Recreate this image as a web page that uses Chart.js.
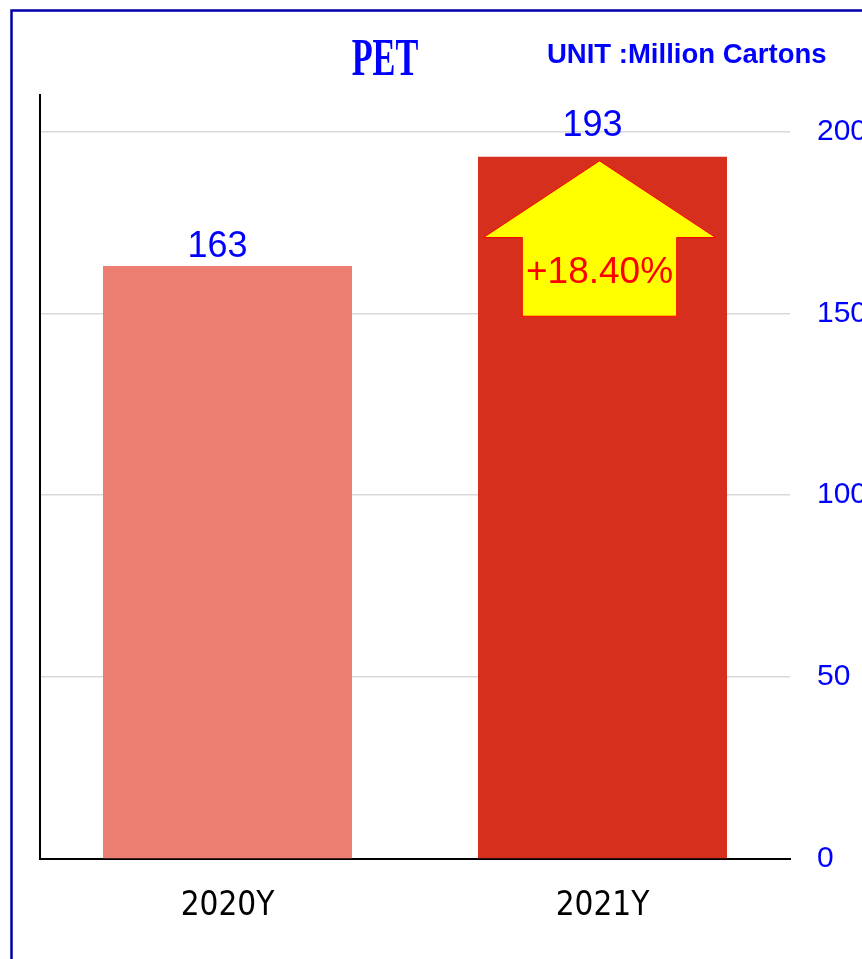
<!DOCTYPE html>
<html>
<head>
<meta charset="utf-8">
<script src="https://cdn.jsdelivr.net/npm/chart.js@4.4.1/dist/chart.umd.min.js"></script>
<style>
  html, body { margin: 0; padding: 0; background: #fff; overflow: hidden; }
  #wrap { width: 862px; height: 959px; position: relative; }
</style>
</head>
<body>
<div id="wrap"><canvas id="petChart"></canvas></div>
<script>
// datos
const categories = ["2020Y", "2021Y"];
const volumes = [163, 193];
const barColors = ["#ec7f72", "#d62f1e"];
const yTicks = [0, 50, 100, 150, 200];
const growthLabel = "+18.40%";
const chartTitle = "PET";
const unitLabel = "UNIT :Million Cartons";

const BLUE = "#0000ff";

// marco, titulos, etiquetas y flecha
const decoraciones = {
  id: "decoraciones",
  afterDatasetsDraw(chart, args, opts) {
    const ctx = chart.ctx;
    const bars = chart.getDatasetMeta(0).data;
    ctx.save();

    // flecha sobre la barra 2021
    const b = bars[1];
    const w = b.width;
    const cx = b.x - 3;
    const tipY = b.y + w * 0.016;
    const headY = b.y + w * 0.324;
    const bottomY = b.y + w * 0.64;
    ctx.beginPath();
    ctx.moveTo(cx, tipY);
    ctx.lineTo(cx + w * 0.466, headY);
    ctx.lineTo(cx + w * 0.31, headY);
    ctx.lineTo(cx + w * 0.31, bottomY);
    ctx.lineTo(cx - w * 0.31, bottomY);
    ctx.lineTo(cx - w * 0.31, headY);
    ctx.lineTo(cx - w * 0.466, headY);
    ctx.closePath();
    ctx.fillStyle = "#ffff00";
    ctx.fill();
    ctx.strokeStyle = "#ff0000";
    ctx.lineWidth = 1;
    ctx.stroke();

    ctx.fillStyle = "#ff0000";
    ctx.font = "37px 'Liberation Sans', Arial, sans-serif";
    ctx.textAlign = "center";
    ctx.textBaseline = "alphabetic";
    ctx.fillText(growthLabel, cx, b.y + w * 0.505);

    // valores encima de las barras
    ctx.fillStyle = BLUE;
    ctx.font = "36px 'Liberation Sans', Arial, sans-serif";
    bars.forEach((bar, i) => {
      ctx.fillText(String(volumes[i]), bar.x - 10, bar.y - opts.lift[i]);
    });

    // titulo PET
    ctx.save();
    ctx.translate(385, 75);
    ctx.scale(0.66, 1);
    ctx.font = "bold 52px 'Liberation Serif', 'Times New Roman', serif";
    ctx.fillText(chartTitle, 0, 0);
    ctx.restore();

    ctx.font = "bold 27.5px 'Liberation Sans', Arial, sans-serif";
    ctx.textAlign = "left";
    ctx.fillText(unitLabel, 547, 63);

    // marco azul
    ctx.strokeStyle = "#0000a8";
    ctx.lineWidth = 2.5;
    ctx.strokeRect(11.5, 10.5, 1000, 1100);
    ctx.restore();
  }
};

new Chart(document.getElementById("petChart"), {
  type: "bar",
  data: {
    labels: categories,
    datasets: [
      {
        data: volumes,
        backgroundColor: barColors,
        borderWidth: 0,
        barPercentage: 0.664,
        categoryPercentage: 1,
      },
    ],
  },
  options: {
    responsive: true,
    maintainAspectRatio: false,
    animation: false,
    layout: { padding: { top: 95, left: 0, right: 0, bottom: 0 } },
    plugins: {
      legend: { display: false },
      tooltip: { enabled: false },
      decoraciones: { lift: [9, 21] },
    },
    scales: {
      x: {
        grid: { display: false, drawTicks: false },
        border: { color: "#000", width: 2 },
        ticks: {
          color: "#000",
          padding: 28,
          font: { family: "'DejaVu Sans Condensed', 'DejaVu Sans', sans-serif", size: 33 },
        },
        afterFit(scale) { scale.height = 100; },
      },
      y: {
        position: "right",
        min: 0,
        max: 210,
        afterBuildTicks(scale) { scale.ticks = yTicks.map(v => ({ value: v })); },
        grid: { color: "#d9d9d9", lineWidth: 1.5, drawTicks: false },
        border: { display: false },
        ticks: {
          color: BLUE,
          padding: 27,
          font: { family: "'Liberation Sans', Arial, sans-serif", size: 30 },
        },
        afterFit(scale) { scale.width = 72; },
      },
      yL: {
        position: "left",
        min: 0,
        max: 210,
        grid: { display: false, drawTicks: false },
        border: { color: "#000", width: 2 },
        ticks: { display: false },
        afterFit(scale) { scale.width = 40; },
      },
    },
  },
  plugins: [decoraciones],
});
</script>
</body>
</html>
